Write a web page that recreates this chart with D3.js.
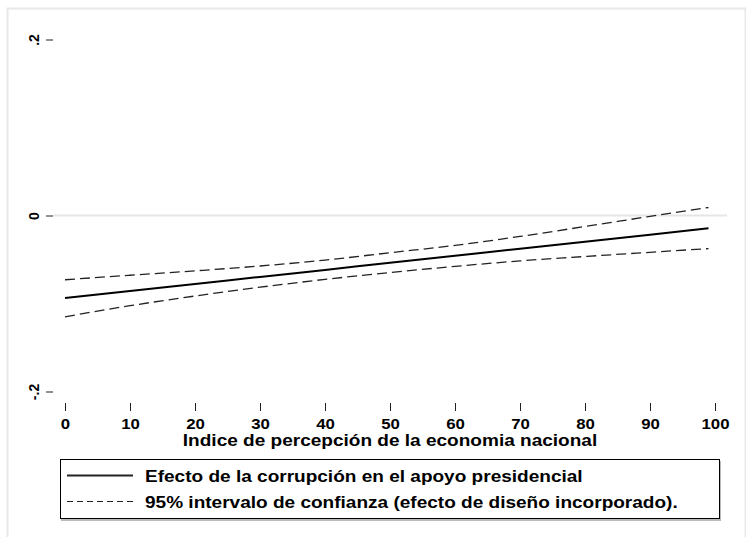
<!DOCTYPE html>
<html>
<head>
<meta charset="utf-8">
<script src="https://cdn.jsdelivr.net/npm/d3@7"></script>
<style>
  html, body { margin: 0; padding: 0; background: #fff; }
  svg { display: block; }
  text { font-family: "Liberation Sans", Arial, Helvetica, sans-serif; font-weight: bold; fill: #000; }
</style>
</head>
<body>
<svg id="chart" width="746" height="537"></svg>
<script>
// Economic perception index (x) and marginal effect of corruption on presidential support
const xValues   = [0, 10, 20, 30, 40, 50, 60, 70, 80, 90, 99];
const effect    = [-0.0938, -0.0858, -0.0778, -0.0698, -0.0618, -0.0538, -0.0458, -0.0378, -0.0298, -0.0218, -0.0146];
const ciUpper   = [-0.0730, -0.0679, -0.0629, -0.0574, -0.0507, -0.0423, -0.0340, -0.0238, -0.0125, -0.0010, 0.0091];
const ciLower   = [-0.1151, -0.1025, -0.0915, -0.0815, -0.0726, -0.0648, -0.0578, -0.0516, -0.0466, -0.0418, -0.0376];

const xTicks = [0, 10, 20, 30, 40, 50, 60, 70, 80, 90, 100];
const yTicks = [-0.2, 0, 0.2];
const yTickLabels = ["-.2", "0", ".2"];

const xTitle = "Indice de percepción de la economia nacional";
const legendLabels = [
  "Efecto de la corrupción en el apoyo presidencial",
  "95% intervalo de confianza (efecto de diseño incorporado)."
];

// horizontal text is drawn slightly widened
const STRETCH = 1.12;

const svg = d3.select("#chart");

// outer graph region border
svg.append("rect")
  .attr("x", 7.5).attr("y", 8.5)
  .attr("width", 738).attr("height", 540)
  .attr("fill", "#fff")
  .attr("stroke", "#e8e8e8")
  .attr("stroke-width", 2);

const x = d3.scaleLinear().domain([0, 100]).range([65, 715]);
const y = d3.scaleLinear().domain([-0.2, 0.2]).range([391.5, 39.5]);

// zero reference line
svg.append("line")
  .attr("x1", 53).attr("x2", 727)
  .attr("y1", y(0)).attr("y2", y(0))
  .attr("stroke", "#e6e6e6").attr("stroke-width", 2);

// y axis (ticks and rotated labels, no domain line)
const yAxis = d3.axisLeft(y)
  .tickValues(yTicks)
  .tickSize(7)
  .tickFormat((d, i) => yTickLabels[i]);
const gy = svg.append("g").attr("transform", "translate(53,0)").call(yAxis);
gy.select(".domain").remove();
gy.selectAll(".tick line").attr("stroke", "#222").attr("stroke-width", 1);
gy.selectAll(".tick text")
  .attr("x", null)
  .attr("text-anchor", "middle")
  .attr("font-size", 14)
  .attr("transform", "translate(-19,0) rotate(-90)")
  .attr("dy", "0.36em");

// x axis (ticks and labels, no domain line)
const xAxis = d3.axisBottom(x)
  .tickValues(xTicks)
  .tickSize(8)
  .tickPadding(7)
  .tickFormat(d3.format("d"));
const gx = svg.append("g").attr("transform", "translate(0,403)").call(xAxis);
gx.select(".domain").remove();
gx.selectAll(".tick line").attr("stroke", "#222").attr("stroke-width", 1);
gx.selectAll(".tick text")
  .attr("font-size", 15)
  .attr("transform", `scale(${STRETCH},1)`);

// x axis title
svg.append("text")
  .attr("transform", `translate(${x(50)},446) scale(${STRETCH},1)`)
  .attr("text-anchor", "middle")
  .attr("font-size", 17)
  .text(xTitle);

const line = d3.line()
  .x((d, i) => x(xValues[i]))
  .y(d => y(d))
  .curve(d3.curveMonotoneX);

svg.append("path").datum(ciUpper)
  .attr("d", line).attr("fill", "none")
  .attr("stroke", "#222").attr("stroke-width", 1.3)
  .attr("stroke-dasharray", "10,5");
svg.append("path").datum(ciLower)
  .attr("d", line).attr("fill", "none")
  .attr("stroke", "#222").attr("stroke-width", 1.3)
  .attr("stroke-dasharray", "10,5");
svg.append("path").datum(effect)
  .attr("d", line).attr("fill", "none")
  .attr("stroke", "#000").attr("stroke-width", 2);

// legend
const lg = svg.append("g");
lg.append("rect")
  .attr("x", 61).attr("y", 461).attr("width", 660).attr("height", 60)
  .attr("fill", "#bbb");
lg.append("rect")
  .attr("x", 60.5).attr("y", 459.5).attr("width", 659).attr("height", 59)
  .attr("fill", "#fff").attr("stroke", "#000").attr("stroke-width", 1);
const rows = [
  { y: 475.5, dash: null, w: 2, label: legendLabels[0] },
  { y: 501.5, dash: "6,4", w: 1, label: legendLabels[1] }
];
rows.forEach(r => {
  lg.append("line")
    .attr("x1", 67).attr("x2", 133)
    .attr("y1", r.y).attr("y2", r.y)
    .attr("stroke", "#222").attr("stroke-width", r.w)
    .attr("stroke-dasharray", r.dash);
  lg.append("text")
    .attr("transform", `translate(145,${r.y}) scale(${STRETCH},1)`)
    .attr("dy", "0.36em")
    .attr("font-size", 17)
    .text(r.label);
});
</script>
</body>
</html>
